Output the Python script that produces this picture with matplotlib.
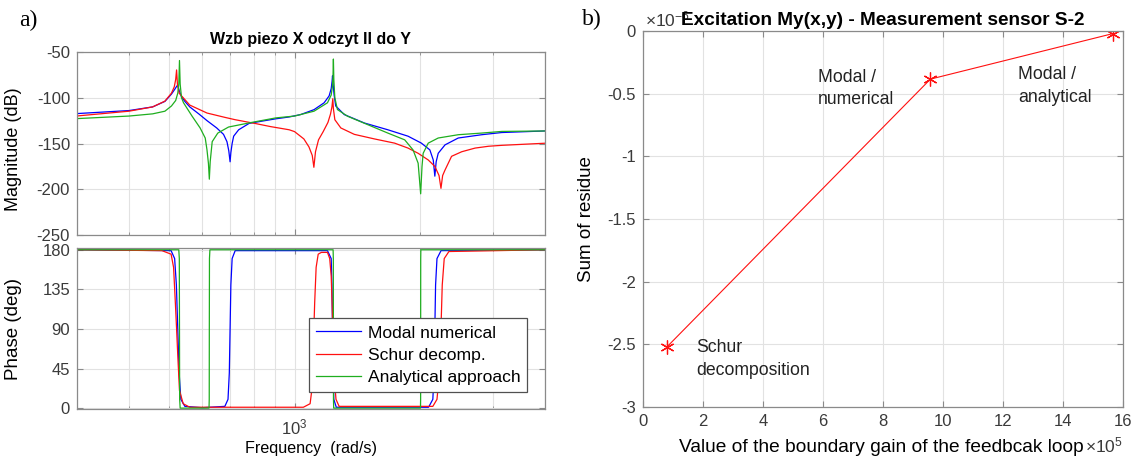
import matplotlib
matplotlib.use('Agg')
import matplotlib.pyplot as plt
from matplotlib.ticker import FixedLocator, FuncFormatter, NullFormatter, MultipleLocator

plt.rcParams['font.family'] = ['Liberation Sans', 'DejaVu Sans']
plt.rcParams['axes.unicode_minus'] = False
plt.rcParams['mathtext.fontset'] = 'custom'
plt.rcParams['mathtext.rm'] = 'Liberation Sans'
plt.rcParams['mathtext.it'] = 'Liberation Sans:italic'
plt.rcParams['mathtext.bf'] = 'Liberation Sans:bold'

# ---------------- data: panel a) magnitude (dB) ----------------
blue_mag_f = [300, 400, 456, 488, 506, 515, 520, 524, 528, 535, 545, 560, 590, 616, 650, 675, 688, 695, 700, 703,
              708, 714, 734, 778, 837, 902, 971, 1034, 1114, 1178, 1211, 1225, 1231, 1234, 1238, 1245, 1256, 1317,
              1472, 1676, 1874, 2018, 2115, 2155, 2174, 2190, 2215, 2300, 2475, 2818, 3150, 4000]
blue_mag_db = [-117.3, -114, -110, -104, -96, -91, -88, -86, -92, -99, -104, -110, -118, -125, -133, -140, -148,
               -158, -170, -160, -150, -142, -135, -128, -125.5, -123, -121, -118.4, -113, -105.5, -98, -90, -82, -76,
               -85, -97, -109, -118.4, -127.6, -135, -142, -149.6, -157, -168, -185.7, -170, -160.7, -151.5, -144,
               -140.4, -138, -136.3]

red_mag_f = [300, 400, 456, 488, 506, 514, 518, 520.6, 523, 528, 545, 560, 616, 681, 720, 808, 875, 971, 1000, 1053,
             1083, 1103, 1113, 1123, 1142, 1172, 1203, 1220, 1230, 1236, 1240, 1250, 1292, 1392, 1556, 1740, 1874,
             1982, 2096, 2174, 2225, 2249, 2270, 2300, 2385, 2523, 2717, 2928, 3150, 4000]
red_mag_db = [-119.9, -114.7, -110, -103.7, -95, -88, -80, -69.6, -85, -95, -102, -108, -116.7, -121.5, -124, -128.3,
              -131.5, -135, -137, -145, -153.7, -163, -176, -159, -146, -137, -127, -118, -110, -101, -112, -124, -133,
              -140, -145, -149.6, -155, -160.7, -168, -175, -185, -199, -185, -179, -164, -159, -155, -153, -152,
              -149.7]

green_mag_f = [300, 400, 456, 488, 506, 518, 524, 527, 529, 531, 535, 541, 567, 593, 610, 616, 621, 624, 627, 634,
               654, 694, 792, 902, 1000, 1114, 1200, 1225, 1233, 1237, 1240, 1243, 1250, 1268, 1341, 1499, 1676,
               1840, 1927, 1982, 2010, 2025, 2038, 2096, 2215, 2475, 2818, 3150, 4000]
green_mag_db = [-122.8, -120, -117.6, -114.7, -109, -103, -95, -85, -59.3, -85, -100, -105.5, -120, -133, -144, -157,
                -172, -189, -170, -148, -138.6, -132, -126.8, -122, -120, -114.7, -105.5, -97, -88, -78, -57.7, -80,
                -100, -112.9, -120.2, -129.4, -138.6, -146, -157, -171.5, -205, -175, -160.7, -149.6, -144, -140.4,
                -138.6, -136.8, -136.3]

# ---------------- data: panel a) phase (deg) ----------------
blue_ph_f = [300, 505, 515, 520, 524, 528, 533, 545, 600, 680, 692, 697, 700, 703, 708, 720, 1200, 1225, 1230, 1234,
             1238, 1243, 1260, 2100, 2150, 2165, 2174, 2183, 2200, 2250, 4000]
blue_ph = [180, 179, 170, 140, 90, 40, 10, 2, 0.5, 2, 10, 40, 90, 140, 170, 179, 179, 170, 140, 90, 40, 10, 1, 1, 10,
           40, 90, 140, 170, 179, 180]

red_ph_f = [300, 480, 505, 512, 517, 520.6, 524, 529, 540, 560, 1050, 1090, 1100, 1108, 1113, 1118, 1127, 1140, 1160,
            1200, 1215, 1225, 1231, 1236, 1241, 1248, 1258, 1280, 2150, 2200, 2230, 2249, 2265, 2290, 2350, 4000]
red_ph = [180, 179, 175, 160, 120, 90, 60, 20, 5, 1, 1, 5, 20, 60, 90, 120, 160, 175, 177, 177, 170, 150, 120, 90, 60,
          30, 10, 2, 2, 10, 40, 90, 140, 170, 178, 180]

green_ph_f = [300, 527, 528.5, 529, 529.5, 531, 623, 623.7, 624, 624.5, 626, 1238, 1239.5, 1240, 1240.5, 1242, 2008,
              2009.5, 2010, 2010.5, 2012, 4000]
green_ph = [180, 180, 170, 90, 10, 0, 0, 10, 90, 170, 180, 180, 170, 90, 10, 0, 0, 10, 90, 170, 180, 180]

series_labels = ['Modal numerical', 'Schur decomp.', 'Analytical approach']

# ---------------- data: panel b) ----------------
gain = [0.8e5, 9.58e5, 15.65e5]
residue = [-2.52e-6, -0.384e-6, -0.0215e-6]
point_names = ['Schur\ndecomposition', 'Modal /\nnumerical', 'Modal /\nanalytical']

mag_yticks = [-250, -200, -150, -100, -50]
ph_yticks = [0, 45, 90, 135, 180]
freq_minor = [300, 400, 500, 600, 700, 800, 900, 2000, 3000, 4000]

# ---------------- styling ----------------
C_BLUE = '#0000ff'
C_RED = '#ff1010'
C_GREEN = '#1fae1f'
SPINE = '#8a8a8a'
TXT = '#3a3a3a'
GRID = '#e2e2e2'
LW = 0.9

W, H = 1138, 459
fig = plt.figure(figsize=(W / 100, H / 100), dpi=100)


def box(l, t, r, b):
    return [l / W, 1 - b / H, (r - l) / W, (b - t) / H]


def style(ax):
    for s in ax.spines.values():
        s.set_color(SPINE)
        s.set_linewidth(0.9)
    ax.tick_params(which='both', direction='in', top=True, right=True, colors=SPINE,
                   labelcolor=TXT, labelsize=12, pad=5)
    ax.tick_params(which='major', length=4)
    ax.tick_params(which='minor', length=2.5)
    ax.set_axisbelow(True)


ax_mag = fig.add_axes(box(77, 52, 545, 235))
ax_ph = fig.add_axes(box(77, 248, 545, 409))
ax_b = fig.add_axes(box(643, 31, 1123, 407))

# magnitude
for f, d, c in [(blue_mag_f, blue_mag_db, C_BLUE), (red_mag_f, red_mag_db, C_RED), (green_mag_f, green_mag_db, C_GREEN)]:
    ax_mag.plot(f, d, color=c, lw=LW)
# phase
lines = []
for f, p, c, lab in [(blue_ph_f, blue_ph, C_BLUE, series_labels[0]), (red_ph_f, red_ph, C_RED, series_labels[1]),
                     (green_ph_f, green_ph, C_GREEN, series_labels[2])]:
    ln, = ax_ph.plot(f, p, color=c, lw=LW, label=lab)
    lines.append(ln)

for ax in (ax_mag, ax_ph):
    ax.set_xscale('log')
    ax.set_xlim(300, 4000)
    ax.xaxis.set_major_locator(FixedLocator([1000]))
    ax.xaxis.set_minor_locator(FixedLocator(freq_minor))
    ax.xaxis.set_minor_formatter(NullFormatter())
    ax.grid(True, which='both', color=GRID, lw=0.8)
    style(ax)

ax_mag.set_ylim(-250, -50)
ax_mag.set_yticks(mag_yticks)
ax_mag.xaxis.set_major_formatter(NullFormatter())
ax_mag.set_ylabel('Magnitude (dB)', fontsize=13, color='black')
ax_mag.yaxis.set_label_coords(-0.118, 0.47)
ax_mag.set_title('Wzb piezo X odczyt II do Y', fontsize=11.5, fontweight='bold', pad=6)

ax_ph.set_ylim(-1, 182)
ax_ph.set_yticks(ph_yticks)
ax_ph.xaxis.set_major_formatter(FuncFormatter(lambda v, p: r'$10^{3}$'))
ax_ph.tick_params(axis='x', which='major', labelsize=12, pad=6)
ax_ph.set_ylabel('Phase (deg)', fontsize=13.5, color='black')
ax_ph.yaxis.set_label_coords(-0.118, 0.5)
ax_ph.set_xlabel('Frequency  (rad/s)', fontsize=11.6, color='black')
ax_ph.xaxis.set_label_coords(0.5, -0.2)

leg = ax_ph.legend(handles=lines, loc='lower right', bbox_to_anchor=(0.962, 0.105), borderaxespad=0,
                   fontsize=12.6, handlelength=2.6, handletextpad=0.35, labelspacing=0.4,
                   borderpad=0.4, fancybox=False, framealpha=1)
leg.get_frame().set_edgecolor('#505050')
leg.get_frame().set_linewidth(0.9)

# panel b
ax_b.plot(gain, residue, color=C_RED, lw=0.8, marker=(6, 2, 0), ms=10, mew=0.9)
ax_b.set_xlim(0, 16e5)
ax_b.set_ylim(-3e-6, 0)
ax_b.xaxis.set_major_locator(MultipleLocator(2e5))
ax_b.yaxis.set_major_locator(MultipleLocator(0.5e-6))
ax_b.xaxis.set_major_formatter(FuncFormatter(lambda v, p: '%g' % round(v / 1e5, 6)))
ax_b.yaxis.set_major_formatter(FuncFormatter(lambda v, p: '%g' % round(v / 1e-6, 6)))
ax_b.grid(True, color=GRID, lw=0.8)
style(ax_b)
ax_b.set_xlabel('Value of the boundary gain of the feedbcak loop', fontsize=13.8, color='black')
ax_b.xaxis.set_label_coords(0.496, -0.086)
ax_b.set_ylabel('Sum of residue', fontsize=13.5, color='black')
ax_b.yaxis.set_label_coords(-0.1, 0.5)
ax_b.text(0.004, 1.012, '×10$^{-6}$', transform=ax_b.transAxes, fontsize=12.5, color=TXT,
          ha='left', va='baseline')
ax_b.text(1.0, -0.122, '×10$^{5}$', transform=ax_b.transAxes, fontsize=12.5, color=TXT,
          ha='right', va='baseline', zorder=5)
ax_b.set_title('Excitation My(x,y) - Measurement sensor S-2', fontsize=13.7, fontweight='bold', pad=4)

ann_pos = [(1.78e5, -2.455e-6), (5.82e5, -0.30e-6), (12.5e5, -0.28e-6)]
for (x, y), name in zip(ann_pos, point_names):
    ax_b.text(x, y, name, fontsize=12.7, color='#222222', ha='left', va='top', linespacing=1.45)

# panel letters
fig.text(19 / W, 1 - 20 / H, 'a)', fontsize=17, family='Liberation Serif', va='center', ha='left')
fig.text(582 / W, 1 - 19 / H, 'b)', fontsize=17, family='Liberation Serif', va='center', ha='left')

fig.savefig('out.png', dpi=100)
